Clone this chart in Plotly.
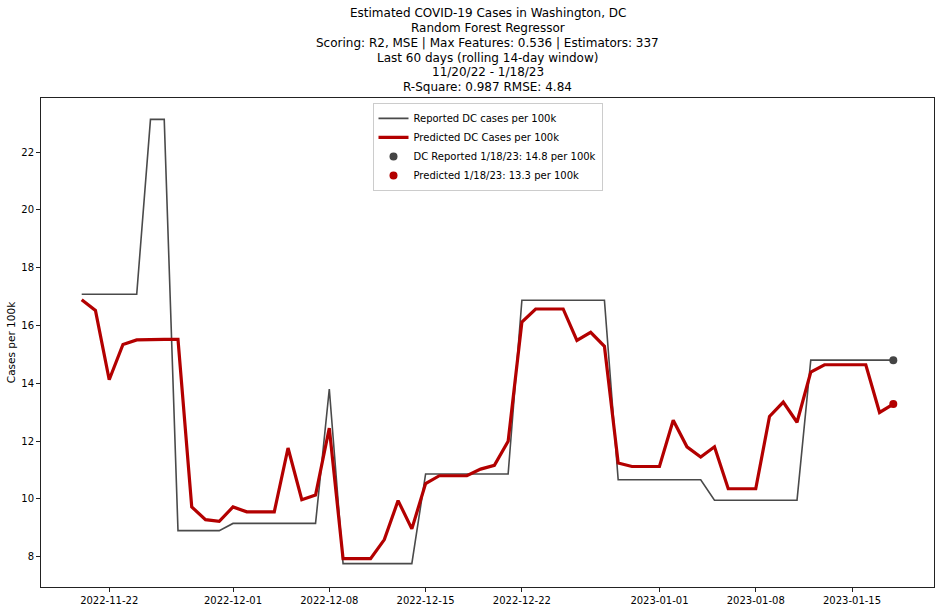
import pandas as pd
import plotly.graph_objects as go

start_date = "2022-11-20"
end_date = "2023-01-18"
dates = pd.date_range(start_date, end_date, freq="D")

reported = [17.08, 17.08, 17.08, 17.08, 17.08, 23.13, 23.13, 8.9, 8.9, 8.9,
            8.9, 9.15, 9.15, 9.15, 9.15, 9.15, 9.15, 9.15, 13.8, 7.76,
            7.76, 7.76, 7.76, 7.76, 7.76, 10.86, 10.86, 10.86, 10.86, 10.86,
            10.86, 10.86, 16.87, 16.87, 16.87, 16.87, 16.87, 16.87, 16.87, 10.66,
            10.66, 10.66, 10.66, 10.66, 10.66, 10.66, 9.95, 9.95, 9.95, 9.95,
            9.95, 9.95, 9.95, 14.8, 14.8, 14.8, 14.8, 14.8, 14.8, 14.8]

predicted = [16.89, 16.52, 14.12, 15.34, 15.5, 15.52, 15.52, 15.52, 9.72, 9.28,
             9.22, 9.72, 9.55, 9.55, 9.55, 11.76, 9.97, 10.13, 12.45, 7.93,
             7.93, 7.93, 8.59, 9.94, 8.96, 10.53, 10.8, 10.8, 10.8, 11.03,
             11.16, 11.99, 16.12, 16.57, 16.57, 16.57, 15.48, 15.76, 15.28, 11.24,
             11.12, 11.12, 11.12, 12.72, 11.8, 11.45, 11.8, 10.35, 10.35, 10.35,
             12.85, 13.35, 12.65, 14.39, 14.64, 14.64, 14.64, 14.64, 12.99, 13.28]

x_ticks = ["2022-11-22", "2022-12-01", "2022-12-08", "2022-12-15",
           "2022-12-22", "2023-01-01", "2023-01-08", "2023-01-15"]

title_lines = [
    "Estimated COVID-19 Cases in Washington, DC",
    "Random Forest Regressor",
    "Scoring: R2, MSE | Max Features: 0.536 | Estimators: 337",
    "Last 60 days (rolling 14-day window)",
    "11/20/22 - 1/18/23",
    "R-Square: 0.987 RMSE: 4.84",
]

GRAY = "#4a4a4a"
RED = "#b30000"

fig = go.Figure()
fig.add_trace(go.Scatter(x=dates, y=reported, mode="lines",
                         line=dict(color=GRAY, width=1.6),
                         name="Reported DC cases per 100k"))
fig.add_trace(go.Scatter(x=dates, y=predicted, mode="lines",
                         line=dict(color=RED, width=3.2),
                         name="Predicted DC Cases per 100k"))
fig.add_trace(go.Scatter(x=[dates[-1]], y=[reported[-1]], mode="markers",
                         marker=dict(color="#444444", size=8),
                         name="DC Reported 1/18/23: 14.8 per 100k"))
fig.add_trace(go.Scatter(x=[dates[-1]], y=[predicted[-1]], mode="markers",
                         marker=dict(color=RED, size=8),
                         name="Predicted 1/18/23: 13.3 per 100k"))

# title lines placed as centred text (pixel rows converted to paper coords)
plot_top, plot_bottom = 98.3, 587.3
for k, line in enumerate(title_lines):
    y_px = 13.8 + k * 14.7
    fig.add_annotation(text=line, x=0.5, xref="paper", xanchor="center",
                       y=(plot_bottom - y_px) / (plot_bottom - plot_top),
                       yref="paper", yanchor="middle", showarrow=False,
                       font=dict(size=12, color="black"))

fig.update_layout(
    width=940, height=611,
    margin=dict(l=41, r=6, t=98, b=24),
    paper_bgcolor="white", plot_bgcolor="white",
    font=dict(family="DejaVu Sans", size=10, color="black"),
    showlegend=True,
    legend=dict(x=0.5, xanchor="center", y=0.99, yanchor="top",
                bgcolor="white", bordercolor="#cccccc", borderwidth=1,
                font=dict(size=10), tracegroupgap=0, itemwidth=30),
)
fig.update_xaxes(
    range=["2022-11-17 01:00", "2023-01-20 23:00"],
    tickvals=x_ticks, ticktext=x_ticks,
    showgrid=False, zeroline=False, showline=True, linecolor="#222",
    linewidth=1, mirror=True, ticks="outside", ticklen=4, tickcolor="#222",
)
fig.update_yaxes(
    range=[6.95, 23.87], tick0=8, dtick=2,
    showgrid=False, zeroline=False, showline=True, linecolor="#222",
    linewidth=1, mirror=True, ticks="outside", ticklen=4, tickcolor="#222",
    title=dict(text="Cases per 100k", standoff=3, font=dict(size=10.5)),
)

fig.write_html("out.html")
